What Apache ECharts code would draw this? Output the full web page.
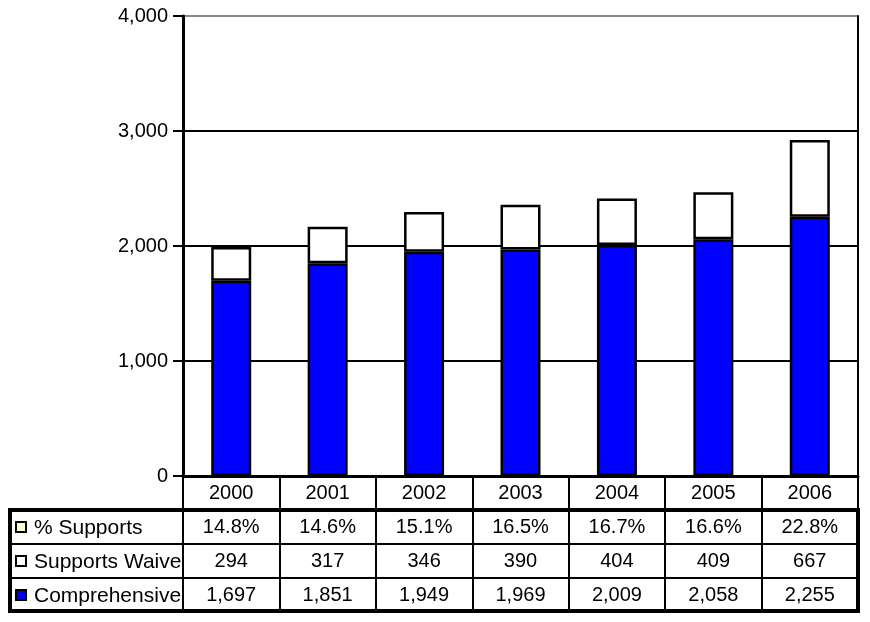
<!DOCTYPE html>
<html><head><meta charset="utf-8">
<script src="https://cdn.jsdelivr.net/npm/echarts@6/dist/echarts.min.js"></script>
<style>html,body{margin:0;padding:0;background:#fff}#c{width:870px;height:622px}</style>
</head><body><div id="c"></div>
<script>
const years = ['2000','2001','2002','2003','2004','2005','2006'];
const comprehensive = [1697, 1851, 1949, 1969, 2009, 2058, 2255];
const supportsWaiver = [294, 317, 346, 390, 404, 409, 667];
const pctSupports = [14.8, 14.6, 15.1, 16.5, 16.7, 16.6, 22.8];
const yTicks = [0, 1000, 2000, 3000, 4000];
const rowNames = ['% Supports', 'Supports Waiver', 'Comprehensive'];
const rowSwatches = ['#ffffcc', '#ffffff', '#0000e6'];

const FONT = "'Liberation Sans', Arial, sans-serif";
const fmt = v => v.toLocaleString('en-US');
const pctLabels = pctSupports.map(v => v.toFixed(1) + '%');
const waiverLabels = supportsWaiver.map(fmt);
const compLabels = comprehensive.map(fmt);

const gridLeft = 183, gridRight = 858, gridTop = 16, gridBottom = 476;
const rowH = 34;

function tableAxis(data, offset, lineW) {
  return {
    type: 'category', data: data, position: 'bottom', offset: offset,
    axisLine: { show: true, onZero: false, lineStyle: { color: '#000', width: lineW } },
    axisTick: { show: true, length: rowH, lineStyle: { color: '#000', width: 2 } },
    axisLabel: { fontSize: 20, color: '#000', fontFamily: FONT, margin: 7, interval: 0 },
    splitLine: { show: false }
  };
}

const graphics = [
  { type: 'rect', shape: { x: 10, y: gridBottom + rowH, width: gridRight - 10, height: rowH * 3 - 1 },
    style: { fill: null, stroke: '#000', lineWidth: 4 }, z: 100 }
];
for (let i = 1; i < 3; i++) {
  graphics.push({ type: 'line', shape: { x1: 10, y1: gridBottom + rowH * (i + 1), x2: gridLeft, y2: gridBottom + rowH * (i + 1) },
    style: { stroke: '#000', lineWidth: 2 }, z: 100 });
}
rowNames.forEach((name, i) => {
  const cy = gridBottom + rowH * (i + 1) + rowH / 2;
  graphics.push({ type: 'rect', shape: { x: 16, y: cy - 5, width: 10, height: 10 },
    style: { fill: rowSwatches[i], stroke: '#000', lineWidth: 2 }, z: 100 });
  graphics.push({ type: 'text', x: 34, y: cy + 1, style: { text: name, fontSize: 21, fontFamily: FONT, fill: '#000',
    verticalAlign: 'middle', align: 'left', width: 150, overflow: 'truncate', ellipsis: '' }, z: 100 });
});

const chart = echarts.init(document.getElementById('c'), null, { renderer: 'canvas' });
chart.setOption({
  animation: false,
  backgroundColor: '#fff',
  grid: { left: gridLeft, right: 870 - gridRight, top: gridTop, bottom: 622 - gridBottom, containLabel: false },
  xAxis: [
    tableAxis(years, 0, 3),
    tableAxis(pctLabels, rowH, 4),
    tableAxis(waiverLabels, rowH * 2, 2),
    tableAxis(compLabels, rowH * 3, 2)
  ],
  yAxis: [
    { type: 'value', min: yTicks[0], max: yTicks[yTicks.length - 1], interval: 1000,
      axisLine: { show: true, lineStyle: { color: '#000', width: 3 } },
      axisTick: { show: true, length: 10, lineStyle: { color: '#000', width: 2 } },
      axisLabel: { fontSize: 20, color: '#000', fontFamily: FONT, margin: 15, formatter: v => fmt(v) },
      splitLine: { show: true, lineStyle: { color: ['#000', '#000', '#000', '#000', '#888'], width: 2 } } },
    { type: 'value', position: 'right', min: yTicks[0], max: yTicks[yTicks.length - 1], interval: 1000,
      axisLine: { show: true, lineStyle: { color: '#000', width: 2 } },
      axisTick: { show: false }, axisLabel: { show: false }, splitLine: { show: false } }
  ],
  series: [
    { name: 'Comprehensive', type: 'bar', stack: 'total', xAxisIndex: 0, yAxisIndex: 0, barWidth: 40,
      data: comprehensive, itemStyle: { color: '#0000ff', borderColor: '#000', borderWidth: 2.5 } },
    { name: 'Supports Waiver', type: 'bar', stack: 'total', xAxisIndex: 0, yAxisIndex: 0, barWidth: 40,
      data: supportsWaiver, itemStyle: { color: '#ffffff', borderColor: '#000', borderWidth: 2.5 } }
  ],
  graphic: graphics
});
</script>
</body></html>
